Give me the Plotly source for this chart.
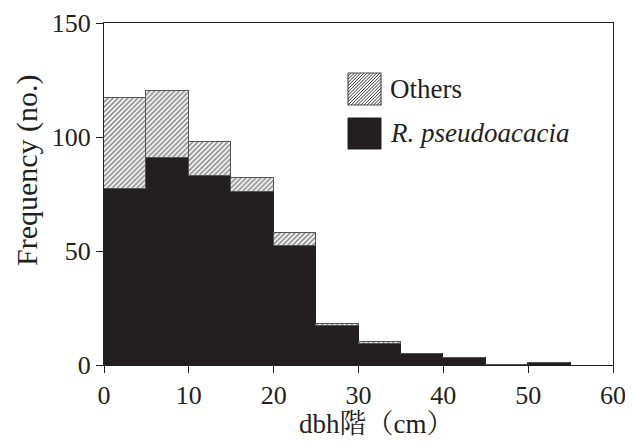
import plotly.graph_objects as go

bin_centers = [2.5, 7.5, 12.5, 17.5, 22.5, 27.5, 32.5, 37.5, 42.5, 47.5, 52.5]
robinia = [77, 91, 83, 76, 52, 17, 9, 5, 3, 0, 1]
others = [40, 29, 15, 6, 6, 1, 1, 0, 0, 0, 0]
x_ticks = [0, 10, 20, 30, 40, 50, 60]
y_ticks = [0, 50, 100, 150]
legend_labels = ["Others", "<i>R. pseudoacacia</i>"]
x_title = "dbh階（cm）"
y_title = "Frequency (no.)"

font_family = "Liberation Serif, Noto Serif CJK SC, Noto Sans CJK SC, serif"
ink = "#231f20"

# page has an 8px body margin, so the figure is drawn from (8, 8)
OFF = 8
W, H = 625, 435
ML, MR, MT, MB = 96, 20, 15, 78
PW, PH = W - ML - MR, H - MT - MB


def px2paper(px, py):
    """page pixel -> paper coordinates"""
    return (px - OFF - ML) / PW, (H - MB - (py - OFF)) / PH


fig = go.Figure()
fig.add_trace(go.Bar(
    x=bin_centers, y=robinia, width=5, name=legend_labels[1],
    marker=dict(color=ink, line=dict(color=ink, width=1)),
))
fig.add_trace(go.Bar(
    x=bin_centers, y=others, width=5, name=legend_labels[0],
    marker=dict(color="white", line=dict(color="#555555", width=1.2),
                pattern=dict(shape="/", fgcolor="#1a1a1a", bgcolor="white",
                             size=3.5, solidity=0.5)),
))

# custom legend (large swatches like the original)
shapes = []
annotations = []
bx0, bx1 = 348, 381
rows = [(73, 105), (118, 149)]
x0, y1 = px2paper(bx0, rows[0][0])
x1, y0 = px2paper(bx1, rows[0][1])
shapes.append(dict(type="rect", xref="paper", yref="paper", x0=x0, x1=x1, y0=y0, y1=y1,
                   fillcolor="white", line=dict(color="#555555", width=1.2)))
path = ""
step = 3.2
h = rows[0][1] - rows[0][0]
k = -h
while k < (bx1 - bx0):
    ax, ay = bx0 + k, rows[0][1]
    bxp, byp = bx0 + k + h, rows[0][0]
    if ax < bx0:
        ay -= (bx0 - ax); ax = bx0
    if bxp > bx1:
        byp += (bxp - bx1); bxp = bx1
    if ax < bxp:
        p0 = px2paper(ax, ay); p1 = px2paper(bxp, byp)
        path += f"M{p0[0]:.5f},{p0[1]:.5f} L{p1[0]:.5f},{p1[1]:.5f} "
    k += step
shapes.append(dict(type="path", xref="paper", yref="paper", path=path,
                   line=dict(color="#222222", width=0.9)))
x0, y1 = px2paper(bx0, rows[1][0])
x1, y0 = px2paper(bx1, rows[1][1])
shapes.append(dict(type="rect", xref="paper", yref="paper", x0=x0, x1=x1, y0=y0, y1=y1,
                   fillcolor=ink, line=dict(color=ink, width=1)))
for (top, bot), label in zip(rows, legend_labels):
    tx, ty = px2paper(388, (top + bot) / 2)
    annotations.append(dict(xref="paper", yref="paper", x=tx, y=ty, text=label,
                            showarrow=False, xanchor="left", yanchor="middle",
                            font=dict(size=27, color=ink, family=font_family)))

# axis titles placed as in the original
tx, ty = px2paper(376, 424)
annotations.append(dict(xref="paper", yref="paper", x=tx, y=ty, text=x_title,
                        showarrow=False, xanchor="center", yanchor="middle",
                        font=dict(size=27, color=ink, family=font_family)))
tx, ty = px2paper(27, 170)
annotations.append(dict(xref="paper", yref="paper", x=tx, y=ty, text=y_title,
                        showarrow=False, xanchor="center", yanchor="middle",
                        textangle=-90,
                        font=dict(size=30, color=ink, family=font_family)))

fig.update_layout(
    width=W, height=H,
    barmode="stack", bargap=0,
    plot_bgcolor="white", paper_bgcolor="white",
    margin=dict(l=ML, r=MR, t=MT, b=MB),
    font=dict(family=font_family, size=25, color=ink),
    showlegend=False,
    shapes=shapes, annotations=annotations,
    xaxis=dict(range=[0, 60], tickvals=x_ticks, ticks="outside", ticklen=7,
               tickwidth=1.3, tickcolor=ink, automargin=False,
               showline=True, linecolor=ink, linewidth=1.3, mirror=True,
               showgrid=False, zeroline=False, tickfont=dict(size=26)),
    yaxis=dict(range=[0, 150], tickvals=y_ticks, ticks="outside", ticklen=7,
               tickwidth=1.3, tickcolor=ink, automargin=False,
               showline=True, linecolor=ink, linewidth=1.3, mirror=True,
               showgrid=False, zeroline=False, tickfont=dict(size=26)),
)

fig.write_html("out.html")
